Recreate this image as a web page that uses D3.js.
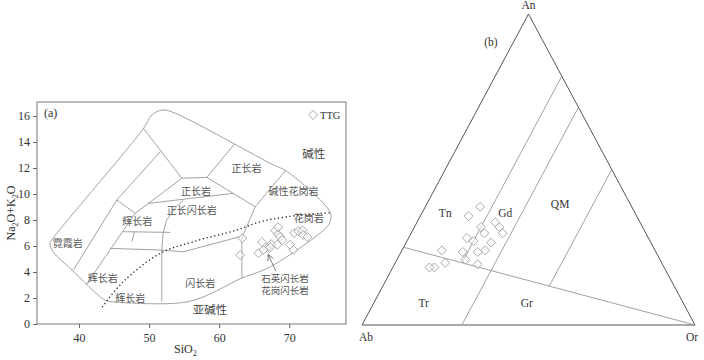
<!DOCTYPE html>
<head>
    <meta charset="utf-8">
    <style>
        * { padding: 0; margin: 0; }
        body { background: #fff; }
        svg { display: block; }
        text { font-family: "Liberation Serif", "DejaVu Serif", serif; fill: #333; }
        .cn { font-family: "Noto Sans CJK SC", sans-serif; font-size: 10px; fill: #555; }
        .field { fill: none; stroke: #8a8a8a; stroke-width: 0.8; }
        .axis path, .axis line { stroke: #666; }
        .axis text { font-size: 12px; fill: #333; font-family: "Liberation Serif", serif; }
    </style>
    <script src="https://cdn.jsdelivr.net/npm/d3@7"></script>
</head>

<body>
    <script>

        /////////////////////////////////////////////////////
        // DATA
        /////////////////////////////////////////////////////

        //Panel (a) - TTG samples, SiO2 vs Na2O+K2O
        const silica = [63.3, 63.0, 65.6, 66.1, 66.9, 66.3, 67.4, 67.3, 68.0, 68.4, 68.7, 69.0, 68.3, 70.1, 70.6, 70.7, 71.3, 71.9, 72.0, 72.6, 68.4]
        const alkali = [6.6, 5.3, 5.45, 6.3, 5.85, 5.7, 6.15, 5.9, 7.2, 6.9, 6.7, 6.45, 6.1, 6.1, 5.7, 7.0, 7.15, 7.2, 6.85, 6.7, 7.45]

        const xTicks = [40, 50, 60, 70]
        const yTicks = [0, 2, 4, 6, 8, 10, 12, 14, 16]

        //Panel (b) - normative An-Ab-Or (%)
        const anVals = [38, 35, 33, 31.5, 29.5, 31.5, 29.5, 28, 27, 26.5, 23.5, 23.5, 24, 24, 21, 19.5, 20, 18.5, 18.5]
        const abVals = [45.5, 50.5, 43.5, 43, 43, 48.5, 48.5, 54.5, 53, 48, 58, 53.5, 51, 64, 58.5, 55.5, 65, 69, 70.5]
        const orVals = [16.5, 14.5, 23.5, 25.5, 27.5, 20, 22, 17.5, 20, 25.5, 18.5, 23, 25, 12, 20.5, 25, 15, 12.5, 11]

        //TAS plutonic field boundaries (SiO2, Na2O+K2O)
        const outerLine = [[44.4, 1.72], [43.5, 1.9], [39.0, 4.15], [36.3, 5.56], [35.85, 6.2], [36.3, 6.6], [37.8, 7.62],
            [49.2, 15.05], [50.4, 16.08], [51.8, 16.46], [53.2, 16.33], [67.3, 12.36], [69.7, 11.72], [74.9, 9.28],
            [75.9, 8.5], [75.9, 8.0], [75.4, 7.48], [67.3, 4.41], [63.2, 3.52], [55.6, 1.72], [44.4, 1.72]]
        const fieldLines = [
            [[49.2, 15.05], [54.67, 11.21], [58.24, 11.28], [62.2, 13.85]],
            [[58.24, 11.28], [65.14, 9.02]],
            [[69.45, 11.8], [65.14, 9.02], [63.24, 6.62], [63.24, 3.52]],
            [[54.67, 11.21], [49.9, 9.28], [62.04, 10.05]],
            [[49.9, 9.28], [48.0, 8.52], [45.39, 9.54]],
            [[51.57, 13.25], [45.39, 9.54], [39.19, 4.15]],
            [[46.3, 7.1], [53.0, 7.05]],
            [[47.9, 7.1], [47.55, 6.33]],
            [[44.43, 5.82], [51.57, 5.69], [54.9, 5.56], [63.0, 6.72]],
            [[51.81, 5.69], [51.81, 1.72]],
            [[54.9, 9.54], [53.7, 8.9], [52.5, 8.0], [52.0, 6.98], [51.81, 5.69]],
            [[41.0, 3.0], [48.0, 8.52]]
        ]
        //Alkaline / subalkaline divide
        const divideLine = [[43.3, 1.3], [46.3, 3.25], [51.6, 5.44], [56.3, 6.33], [62.5, 7.23], [65.9, 7.87], [69.7, 8.25], [74.4, 8.5], [75.9, 8.55]]

        const fieldLabels = [
            { t: ["霓霞岩"], x: 38.4, y: 6.2 },
            { t: ["辉长岩"], x: 48.3, y: 7.9 },
            { t: ["辉长岩"], x: 43.4, y: 3.5 },
            { t: ["辉长岩"], x: 47.3, y: 2.0 },
            { t: ["正长岩"], x: 63.9, y: 12.0 },
            { t: ["正长岩"], x: 56.7, y: 10.2 },
            { t: ["正长闪长岩"], x: 56.1, y: 8.7 },
            { t: ["闪长岩"], x: 57.3, y: 3.1 },
            { t: ["碱性花岗岩"], x: 70.6, y: 10.2 },
            { t: ["花岗岩"], x: 72.8, y: 8.1 },
            { t: ["石英闪长岩", "花岗闪长岩"], x: 69.4, y: 3.45 }
        ]
        const seriesLabels = [
            { t: "碱性", x: 73.5, y: 13.1 },
            { t: "亚碱性", x: 58.7, y: 1.1 }
        ]

        //Ternary field boundaries [An, Ab, Or]
        const ternLines = [
            [[25, 75, 0], [0, 0, 100]],
            [[80, 0, 20], [20, 60, 20]],
            [[70, 0, 30], [0, 70, 30]],
            [[50, 0, 50], [12.5, 37.5, 50]]
        ]
        const ternLabels = [
            { t: "Tn", an: 36, ab: 57, or: 7 },
            { t: "Gd", an: 36, ab: 39, or: 25 },
            { t: "QM", an: 39, ab: 21, or: 40 },
            { t: "Tr", an: 7, ab: 78, or: 15 },
            { t: "Gr", an: 7, ab: 47, or: 46 }
        ]

        /////////////////////////////////////////////////////
        // SETUP SVG
        /////////////////////////////////////////////////////

        const width = 704
        const height = 360

        const svg = d3.select("body").append("svg")
            .attr("width", width)
            .attr("height", height)

        const diamond = d3.symbol().type(d3.symbolSquare).size(40)

        /////////////////////////////////////////////////////
        // PANEL (a) - TAS
        /////////////////////////////////////////////////////

        const x = d3.scaleLinear().domain([34, 78.1]).range([37, 346])
        const y = d3.scaleLinear().domain([0, 17.08]).range([324, 102])

        const gA = svg.append("g")

        const line = d3.line().x(d => x(d[0])).y(d => y(d[1]))
        const curve = d3.line().x(d => x(d[0])).y(d => y(d[1])).curve(d3.curveCatmullRom.alpha(0.5))

        gA.append("path").attr("class", "field").attr("d", curve(outerLine))
        fieldLines.forEach(l => {
            gA.append("path").attr("class", "field").attr("d", line(l))
        })

        gA.append("path")
            .attr("d", curve(divideLine))
            .attr("fill", "none")
            .attr("stroke", "#222")
            .attr("stroke-width", 1.3)
            .attr("stroke-dasharray", "1.3,2.6")

        //Field names, multi-line ones as stacked tspans
        gA.selectAll(".flab")
            .data(fieldLabels)
            .join("text")
            .attr("class", "cn")
            .attr("text-anchor", "middle")
            .selectAll("tspan")
            .data(d => d.t.map((s, i) => ({ s: s, x: d.x, y: d.y, i: i, n: d.t.length })))
            .join("tspan")
            .attr("x", d => x(d.x))
            .attr("y", d => y(d.y) + d.i * 12)
            .attr("dy", "0.35em")
            .style("font-size", d => d.n > 1 ? "9.5px" : null)
            .text(d => d.s)

        gA.selectAll(".slab")
            .data(seriesLabels)
            .join("text")
            .attr("class", "cn")
            .style("font-size", "11.5px")
            .style("fill", "#444")
            .attr("x", d => x(d.x))
            .attr("y", d => y(d.y))
            .attr("text-anchor", "middle")
            .attr("dy", "0.35em")
            .text(d => d.t)

        //Arrow pointing to the samples
        const arrowFrom = [68.1, 4.05], arrowTo = [67.0, 5.35]
        gA.append("line")
            .attr("x1", x(arrowFrom[0])).attr("y1", y(arrowFrom[1]))
            .attr("x2", x(arrowTo[0])).attr("y2", y(arrowTo[1]))
            .attr("stroke", "#666").attr("stroke-width", 0.8)
        const ang = Math.atan2(y(arrowTo[1]) - y(arrowFrom[1]), x(arrowTo[0]) - x(arrowFrom[0]))
        gA.append("path")
            .attr("d", `M${-6},${-3}L0,0L${-6},${3}`)
            .attr("transform", `translate(${x(arrowTo[0])},${y(arrowTo[1])}) rotate(${ang * 180 / Math.PI})`)
            .attr("fill", "none").attr("stroke", "#666").attr("stroke-width", 0.8)

        //Samples
        gA.selectAll(".pt")
            .data(d3.range(silica.length))
            .join("path")
            .attr("d", diamond)
            .attr("transform", i => `translate(${x(silica[i])},${y(alkali[i])}) rotate(45)`)
            .attr("fill", "#fff")
            .attr("fill-opacity", 0.5)
            .attr("stroke", "#999")
            .attr("stroke-width", 0.8)

        //Frame and axes
        gA.append("rect")
            .attr("x", 37).attr("y", 102)
            .attr("width", 309).attr("height", 222)
            .attr("fill", "none").attr("stroke", "#777").attr("stroke-width", 1)

        gA.append("g")
            .attr("class", "axis")
            .attr("transform", "translate(0,324)")
            .call(d3.axisBottom(x).tickValues(xTicks).tickSize(4).tickPadding(5))
            .call(g => g.select(".domain").remove())

        gA.append("g")
            .attr("class", "axis")
            .attr("transform", "translate(37,0)")
            .call(d3.axisLeft(y).tickValues(yTicks).tickSize(4).tickPadding(3))
            .call(g => g.select(".domain").remove())

        gA.append("text")
            .attr("x", 174).attr("y", 353)
            .style("font-size", "12px")
            .html('SiO<tspan dy="3" font-size="8">2</tspan>')

        gA.append("text")
            .attr("transform", "translate(15,213) rotate(-90)")
            .attr("text-anchor", "middle")
            .style("font-size", "12px")
            .html('Na<tspan dy="3" font-size="8">2</tspan><tspan dy="-3">O+K</tspan><tspan dy="3" font-size="8">2</tspan><tspan dy="-3">O</tspan>')

        gA.append("text").attr("x", 44).attr("y", 117).style("font-size", "12px").text("(a)")

        //Legend
        gA.append("path")
            .attr("d", diamond)
            .attr("transform", "translate(313,115) rotate(45)")
            .attr("fill", "#fff").attr("stroke", "#999").attr("stroke-width", 0.8)
        gA.append("text").attr("x", 320).attr("y", 119).style("font-size", "10.5px").text("TTG")

        /////////////////////////////////////////////////////
        // PANEL (b) - An-Ab-Or TERNARY
        /////////////////////////////////////////////////////

        const tx = d3.scaleLinear().domain([0, 100]).range([362, 695])
        const ty = d3.scaleLinear().domain([0, 100]).range([325, 14])
        const tern = (an, ab, or) => {
            const s = an + ab + or
            return [tx(100 * (or + an / 2) / s), ty(100 * an / s)]
        }

        const gB = svg.append("g")

        const corners = [tern(100, 0, 0), tern(0, 100, 0), tern(0, 0, 100)]
        gB.append("path")
            .attr("d", "M" + corners.join("L") + "Z")
            .attr("fill", "none").attr("stroke", "#555").attr("stroke-width", 1)

        ternLines.forEach(l => {
            const p0 = tern(...l[0]), p1 = tern(...l[1])
            gB.append("path").attr("class", "field").attr("d", `M${p0}L${p1}`)
        })

        gB.selectAll(".tlab")
            .data(ternLabels)
            .join("text")
            .attr("x", d => tern(d.an, d.ab, d.or)[0])
            .attr("y", d => tern(d.an, d.ab, d.or)[1])
            .attr("text-anchor", "middle")
            .attr("dy", "0.35em")
            .style("font-size", "11.5px")
            .text(d => d.t)

        gB.selectAll(".tpt")
            .data(d3.range(anVals.length))
            .join("path")
            .attr("d", diamond)
            .attr("transform", i => `translate(${tern(anVals[i], abVals[i], orVals[i])}) rotate(45)`)
            .attr("fill", "#fff")
            .attr("fill-opacity", 0.5)
            .attr("stroke", "#999")
            .attr("stroke-width", 0.8)

        gB.append("text").attr("x", corners[0][0]).attr("y", 9).attr("text-anchor", "middle").style("font-size", "11.5px").text("An")
        gB.append("text").attr("x", corners[1][0] + 4).attr("y", 341).attr("text-anchor", "middle").style("font-size", "11.5px").text("Ab")
        gB.append("text").attr("x", corners[2][0] - 3).attr("y", 341).attr("text-anchor", "middle").style("font-size", "11.5px").text("Or")
        gB.append("text").attr("x", 491).attr("y", 46).attr("text-anchor", "middle").style("font-size", "11.5px").text("(b)")

    </script>
</body>
